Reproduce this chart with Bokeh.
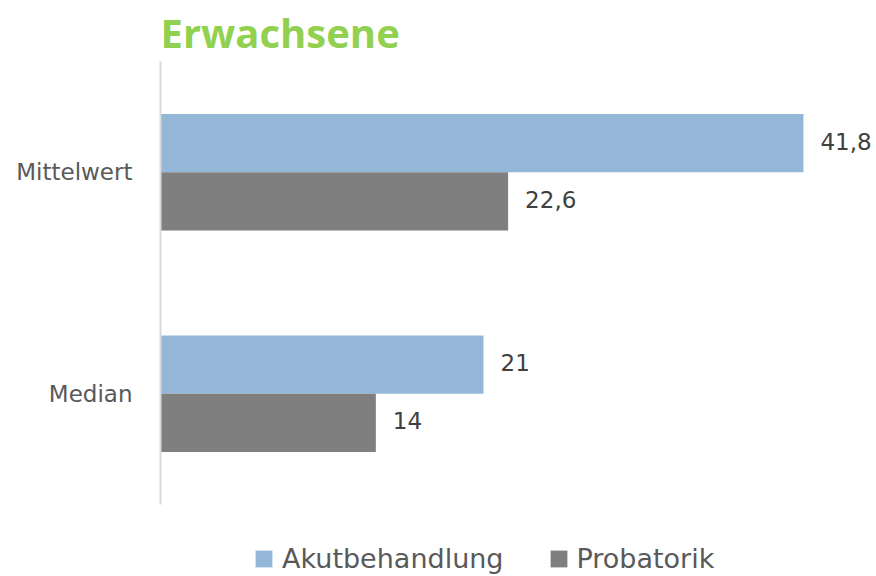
from bokeh.plotting import figure
from bokeh.models import ColumnDataSource, Range1d, Legend, LegendItem, FixedTicker
from bokeh.core.properties import value
from bokeh.embed import file_html
from bokeh.resources import INLINE

# Data
categories = ["Mittelwert", "Median"]
akut = [41.8, 21]
prob = [22.6, 14]
series_names = ["Akutbehandlung", "Probatorik"]
title_text = "Erwachsene"

def fmt(v):
    return ("%g" % v).replace(".", ",")

n = len(categories)
pos = [n - 0.5 - i for i in range(n)]   # category centres, top to bottom
off = 0.1315                              # half bar height (dodge)

src = ColumnDataSource(dict(
    y_akut=[y + off for y in pos],
    y_prob=[y - off for y in pos],
    akut=akut,
    prob=prob,
    akut_lbl=[fmt(v) for v in akut],
    prob_lbl=[fmt(v) for v in prob],
))

BLUE = "#95b7d7"
GRAY = "#7f7f7f"

p = figure(width=876, height=576, output_backend="svg", toolbar_location=None,
           y_range=Range1d(-0.325, n),
           x_range=Range1d(0, 46.55),
           min_border_left=160, min_border_right=0, min_border_top=61,
           min_border_bottom=0)

p.title.text = title_text
p.title.text_color = "#92d050"
p.title.text_font = "Open Sans"
p.title.text_font_style = "bold"
p.title.text_font_size = "40px"
p.title.align = "left"
p.title.standoff = 3

bw = 2 * off
r1 = p.hbar(y="y_akut", right="akut", left=0, height=bw,
            source=src, fill_color=BLUE, line_color=None)
r2 = p.hbar(y="y_prob", right="prob", left=0, height=bw,
            source=src, fill_color=GRAY, line_color=None)

for col, ycol, lbl in (("akut", "y_akut", "akut_lbl"), ("prob", "y_prob", "prob_lbl")):
    p.text(x=col, y=ycol, text=lbl, source=src,
           x_offset=17, y_offset=-2, text_baseline="middle", text_align="left",
           text_font=value("DejaVu Sans"), text_font_size="23px", text_color="#404040")

p.xaxis.visible = False
p.xgrid.visible = False
p.ygrid.visible = False
p.outline_line_color = None

ax = p.yaxis[0]
ax.ticker = FixedTicker(ticks=pos)
ax.major_label_overrides = {y: c for y, c in zip(pos, categories)}
ax.bounds = (0, n)
ax.axis_line_color = "#d9d9d9"
ax.axis_line_width = 2
ax.major_tick_line_color = None
ax.minor_tick_line_color = None
ax.major_label_text_font = "DejaVu Sans"
ax.major_label_text_font_size = "23px"
ax.major_label_text_color = "#595959"
ax.major_label_standoff = 22

legend = Legend(items=[LegendItem(label=series_names[0], renderers=[r1]),
                       LegendItem(label=series_names[1], renderers=[r2])],
                location=(93, 2), orientation="horizontal",
                glyph_width=21, glyph_height=21, label_standoff=8, spacing=44,
                padding=0, margin=0, border_line_color=None, background_fill_alpha=0,
                label_text_font="DejaVu Sans", label_text_font_size="27px",
                label_text_color="#595959")
p.add_layout(legend)

open("out.html", "w").write(file_html(p, INLINE))
